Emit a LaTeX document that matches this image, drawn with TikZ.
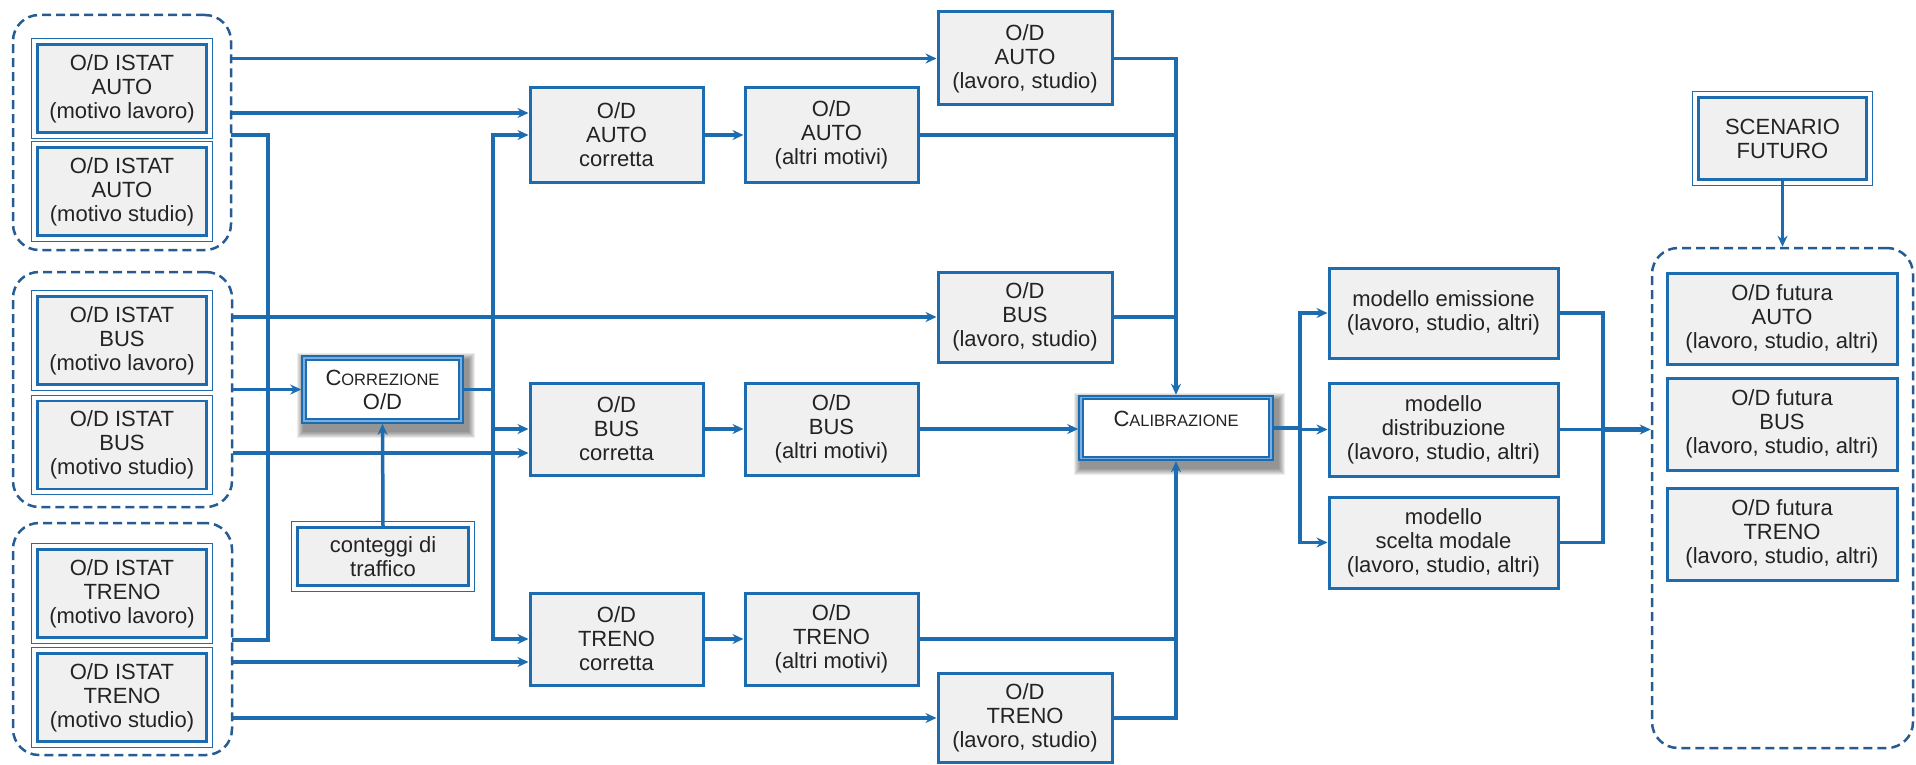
\documentclass[tikz,border=0pt]{standalone}
\usepackage{fontspec}
\setmainfont{Liberation Sans}
\usetikzlibrary{arrows.meta,backgrounds}
\definecolor{bl}{RGB}{30,108,176}
\definecolor{dk}{RGB}{38,92,145}
\definecolor{bxf}{RGB}{240,240,240}
\definecolor{txt}{RGB}{35,35,35}
\definecolor{bllt}{RGB}{120,175,225}
\newcommand{\smc}[1]{{\fontsize{16.5}{18}\selectfont #1}}
\begin{document}
\begin{tikzpicture}[x=1pt,y=-1pt,
  every node/.style={font=\fontsize{22}{24}\selectfont, text=txt, align=center},
  box/.style={draw=bl, line width=3pt, fill=bxf, inner sep=0pt},
  sbox/.style={box, minimum width=173pt, minimum height=92pt},
  mbox/.style={box, minimum width=229pt},
  fbox/.style={box, minimum width=230pt, minimum height=92pt},
  dblbox/.style={box, line width=2.5pt, minimum width=169pt, minimum height=88pt},
  grp/.style={draw=dk, line width=2.5pt, dash pattern=on 9pt off 5pt, rounded corners=26pt, inner sep=0pt},
  mainbox/.style={draw=bl, line width=5.5pt, fill=white, inner sep=0pt,
    postaction={draw=bllt, line width=1.2pt}},
  conn/.style={draw=bl, line width=3.5pt, line cap=rect},
  arr/.style={draw=bl, line width=3.5pt, -{Stealth[length=11pt,width=10pt]}},
  ]
\useasboundingbox (0,0) rectangle (1916,765);

% groups
\node[grp, minimum width=218pt, minimum height=235pt] (gA) at (122,132.5) {};
\node[grp, minimum width=219pt, minimum height=235pt] (gB) at (122.5,389.5) {};
\node[grp, minimum width=219pt, minimum height=232pt] (gC) at (122.5,639) {};
\node[grp, minimum width=261pt, minimum height=500pt] (gF) at (1782.5,498) {};

% ISTAT boxes
\node[dblbox] (ial) at (122,88.5) {O/D ISTAT\\AUTO\\(motivo lavoro)};
\node[dblbox] (ias) at (122,191.5) {O/D ISTAT\\AUTO\\(motivo studio)};
\node[dblbox] (ibl) at (122,340.5) {O/D ISTAT\\BUS\\(motivo lavoro)};
\node[dblbox] (ibs) at (122,445) {O/D ISTAT\\BUS\\(motivo studio)};
\node[dblbox] (itl) at (122,593.5) {O/D ISTAT\\TRENO\\(motivo lavoro)};
\node[dblbox] (its) at (122,697.5) {O/D ISTAT\\TRENO\\(motivo studio)};

% correction
\node[mainbox, minimum width=157pt, minimum height=63pt] (corr) at (382.5,389.5) {C\smc{ORREZIONE}\\O/D};
\node[box, line width=2.5pt, minimum width=171pt, minimum height=58pt] (cnt) at (383,556.5) {conteggi di\\traffico};

% middle boxes
\node[sbox, minimum height=94pt] (acor) at (616.5,135) {O/D\\AUTO\\corretta};
\node[sbox, minimum height=94pt] (aalt) at (831.5,135) {O/D\\AUTO\\(altri motivi)};
\node[sbox, minimum width=174pt, minimum height=93pt] (als) at (1025,58.5) {O/D\\AUTO\\(lavoro, studio)};
\node[sbox, minimum width=174pt, minimum height=90pt] (bls) at (1025,317) {O/D\\BUS\\(lavoro, studio)};
\node[sbox] (bcor) at (616.5,429) {O/D\\BUS\\corretta};
\node[sbox] (balt) at (831.5,429) {O/D\\BUS\\(altri motivi)};
\node[sbox] (tcor) at (616.5,639) {O/D\\TRENO\\corretta};
\node[sbox] (talt) at (831.5,639) {O/D\\TRENO\\(altri motivi)};
\node[sbox, minimum width=174pt, minimum height=89pt] (tls) at (1025,718) {O/D\\TRENO\\(lavoro, studio)};

% calibration
\node[mainbox, minimum width=190pt, minimum height=61pt, text height=16pt, text depth=20pt] (cal) at (1176,428) {C\smc{ALIBRAZIONE}};

% models
\node[mbox, minimum height=90pt] (mem) at (1443.5,313) {modello emissione\\(lavoro, studio, altri)};
\node[mbox, minimum height=93pt] (mdi) at (1443.5,429.5) {modello\\distribuzione\\(lavoro, studio, altri)};
\node[mbox, minimum height=91pt] (msc) at (1443.5,542.5) {modello\\scelta modale\\(lavoro, studio, altri)};

% future
\node[fbox, minimum height=91pt] (fa) at (1782,318.5) {O/D futura\\AUTO\\(lavoro, studio, altri)};
\node[fbox] (fb) at (1782,424) {O/D futura\\BUS\\(lavoro, studio, altri)};
\node[fbox] (ft) at (1782,534) {O/D futura\\TRENO\\(lavoro, studio, altri)};
\node[box, line width=2.5pt, minimum width=168pt, minimum height=82pt] (scen) at (1782.5,138.5) {SCENARIO\\FUTURO};

% outer thin frames of double boxes
\foreach \n in {ial,ias,ibl,ibs,itl,its,cnt,scen}
  \draw[bl, line width=1pt] ([xshift=-4.5pt,yshift=4.5pt]\n.north west) rectangle ([xshift=4.5pt,yshift=-4.5pt]\n.south east);

% blurred shadows of the two main boxes
\begin{scope}[on background layer]
\foreach \n in {corr,cal}
  \foreach \k in {0,...,6}
    \fill[black, opacity=0.075] ([xshift={(2-\k)*1pt},yshift={(-4+\k)*1pt}]\n.north west) rectangle ([xshift={(5+\k)*1pt},yshift={(-8-\k)*1pt}]\n.south east);
\end{scope}

% left connectors
\draw[arr] (gA.east |- als.west) -- (als.west);
\draw[arr] (gA.east |- 0,113) -- (acor.west |- 0,113);
\draw[conn] (gA.east |- 0,135) -- (268,135) -- (268,640) -- (gC.east |- 0,640);
\draw[arr] (gB.east |- corr.west) -- (corr.west);
\draw[arr] (gB.east |- bls.west) -- (bls.west);
\draw[arr] (gB.east |- 0,453) -- (bcor.west |- 0,453);
\draw[arr] (gC.east |- 0,662) -- (tcor.west |- 0,662);
\draw[arr] (gC.east |- tls.west) -- (tls.west);

% correction outputs
\draw[conn] (corr.east) -- (corr.east -| 493,0);
\draw[conn] (acor.west -| 493,0) -- (tcor.west -| 493,0);
\draw[arr] (acor.west -| 493,0) -- (acor.west);
\draw[arr] (bcor.west -| 493,0) -- (bcor.west);
\draw[arr] (tcor.west -| 493,0) -- (tcor.west);
\draw[arr] (cnt.north) -- (corr.south);

% corretta -> altri
\draw[arr] (acor.east) -- (aalt.west);
\draw[arr] (bcor.east) -- (balt.west);
\draw[arr] (tcor.east) -- (talt.west);

% to calibration
\draw[arr] (als.east) -- (als.east -| cal.north) -- (cal.north);
\draw[conn] (aalt.east) -- (aalt.east -| cal.north);
\draw[conn] (bls.east) -- (bls.east -| cal.north);
\draw[arr] (balt.east) -- (balt.east -| cal.west);
\draw[arr] (tls.east) -- (tls.east -| cal.south) -- (cal.south);
\draw[conn] (talt.east) -- (talt.east -| cal.south);

% calibration -> models
\draw[conn] (cal.east) -- (cal.east -| 1300,0);
\draw[conn] (mem.west -| 1300,0) -- (msc.west -| 1300,0);
\draw[arr] (mem.west -| 1300,0) -- (mem.west);
\draw[arr] (mdi.west -| 1300,0) -- (mdi.west);
\draw[arr] (msc.west -| 1300,0) -- (msc.west);

% models -> future
\draw[conn] (mem.east) -- (mem.east -| 1603,0) -- (msc.east -| 1603,0) -- (msc.east);
\draw[conn] (mdi.east) -- (mdi.east -| 1603,0);
\draw[arr, line width=5pt] (mdi.east -| 1603,0) -- (mdi.east -| gF.west);
\draw[arr] (scen.south) -- (gF.north);
\end{tikzpicture}
\end{document}
